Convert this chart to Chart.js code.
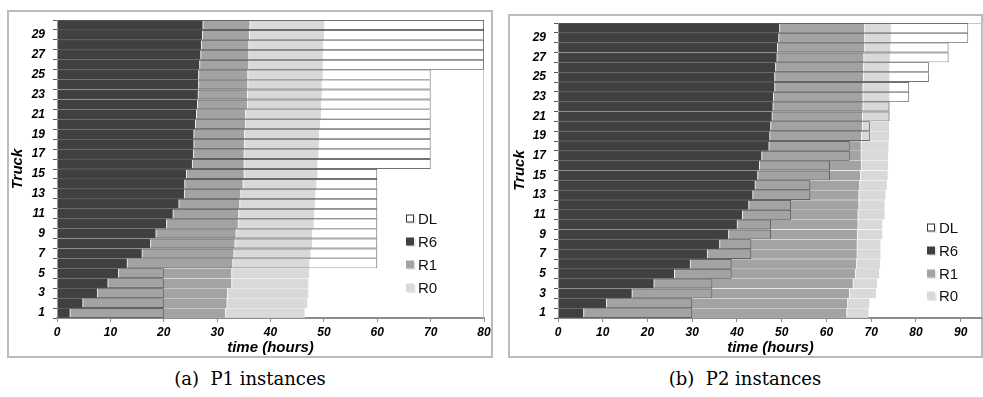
<!DOCTYPE html>
<html><head><meta charset="utf-8">
<script src="https://cdn.jsdelivr.net/npm/chart.js@4.4.1/dist/chart.umd.min.js"></script>
<style>
html,body{margin:0;padding:0;background:#fff;}
body{width:983px;height:397px;overflow:hidden;position:relative;}
.frame{position:absolute;border:2px solid #bcbcbc;box-sizing:border-box;}
#fa{left:7px;top:10px;width:486px;height:348px;}
#fb{left:508px;top:14px;width:475px;height:344px;}
canvas{position:absolute;top:0;}
#ca{left:0;}
#cb{left:500px;}
.cap{position:absolute;top:368px;font-family:'DejaVu Serif','Liberation Serif',serif;font-size:18px;white-space:nowrap;transform:translateX(-50%);color:#000;}
</style></head>
<body>
<div class="frame" id="fa"></div>
<div class="frame" id="fb"></div>
<canvas id="ca" width="495" height="360"></canvas>
<canvas id="cb" width="483" height="360"></canvas>
<div class="cap" style="left:250px">(a)&nbsp; P1 instances</div>
<div class="cap" style="left:745px">(b)&nbsp; P2 instances</div>
<script>
// ---- data ----
const trucks = ['1','2','3','4','5','6','7','8','9','10','11','12','13','14','15','16','17','18','19','20','21','22','23','24','25','26','27','28','29','30'];
const seriesNames = ['DL','R6','R1','R0'];
// Panel (a): P1 instances — end time (hours) of each phase, and deadline
const p1R6 = [2.4,4.8,7.5,9.5,11.5,13.1,15.9,17.5,18.5,20.5,21.7,22.8,23.8,23.9,24.2,25.3,25.5,25.6,25.6,25.9,26.1,26.3,26.4,26.5,26.5,26.7,26.9,27.0,27.2,27.3];
const p1R1 = [31.5,31.8,31.9,32.7,32.7,32.9,33.1,33.3,33.5,33.9,34.0,34.2,34.4,34.8,35.0,35.0,35.0,35.1,35.1,35.3,35.3,35.6,35.6,35.7,35.7,35.9,35.9,35.9,36.0,36.1];
const p1R0 = [46.4,46.9,47.1,47.1,47.2,47.3,47.5,47.8,47.8,48.1,48.2,48.3,48.4,48.6,48.8,48.8,49.0,49.1,49.1,49.3,49.5,49.5,49.6,49.6,49.8,49.8,49.8,49.9,50.0,50.1];
const p1DL = [20,20,20,20,20,60,60,60,60,60,60,60,60,60,60,70,70,70,70,70,70,70,70,70,70,80,80,80,80,80];
// Panel (b): P2 instances
const p2R6 = [5.7,10.8,16.5,21.4,26.0,29.5,33.3,36.1,38.1,40.0,41.2,42.6,43.5,44.0,44.6,45.0,45.5,47.1,47.3,47.5,47.8,48.0,48.1,48.4,48.4,48.6,48.9,49.0,49.3,49.5];
const p2R1 = [64.5,64.7,65.1,65.9,66.4,66.7,66.8,66.8,66.9,67.0,67.0,67.2,67.2,67.4,67.6,67.8,67.7,67.7,67.8,68.0,68.0,68.1,68.1,68.1,68.2,68.2,68.3,68.5,68.5,68.5];
const p2R0 = [69.4,69.6,71.1,71.3,71.8,72.0,72.1,72.1,72.5,72.5,73.0,73.0,73.2,73.5,73.7,73.8,73.8,73.9,74.0,74.0,74.1,74.1,74.1,74.1,74.1,74.1,74.2,74.3,74.4,74.4];
const p2DL = [30,30,34.5,34.5,38.8,38.8,43.2,43.2,47.6,47.6,52.1,52.1,56.4,56.4,60.8,60.8,65.2,65.2,69.7,69.7,74.1,74.1,78.5,78.5,82.9,82.9,87.3,87.3,91.7,91.7];
const xTicksStep = 10;

// ---- styles ----
const C_R6 = '#404040', C_R1 = '#a3a3a3', C_R0 = '#d9d9d9', C_DL = '#474747';
const FAM = '"Liberation Sans", Arial, sans-serif';
const tickFont = {family:FAM, size:12, weight:'bold', style:'italic'};
const titleFont = {family:FAM, size:15, weight:'bold', style:'italic'};

function spans(start, end){ return end.map((v,i)=>[start ? start[i] : 0, v]); }

function plotBorder(){
  return {id:'plotBorder', beforeDatasetsDraw(chart){
    const a = chart.chartArea, ctx = chart.ctx;
    ctx.save(); ctx.strokeStyle = '#c6c6c6'; ctx.lineWidth = 1;
    ctx.beginPath();
    ctx.moveTo(a.left, a.top + 0.5); ctx.lineTo(a.right - 0.5, a.top + 0.5); ctx.lineTo(a.right - 0.5, a.bottom);
    ctx.stroke(); ctx.restore();
  }};
}
function legendBox(lx, tx, ys){
  return {id:'legendBox', afterDraw(chart){
    const ctx = chart.ctx;
    const fills = ['#ffffff', C_R6, C_R1, C_R0];
    ctx.save();
    ctx.font = '15px ' + FAM;
    ctx.textBaseline = 'middle'; ctx.textAlign = 'left';
    seriesNames.forEach((n,i)=>{
      const y = ys[i];
      ctx.fillStyle = '#e6e6e6'; ctx.fillRect(lx+1.5, y-3, 8, 8);
      ctx.fillStyle = fills[i]; ctx.fillRect(lx, y-4.5, 8, 8);
      if (i === 0){ ctx.strokeStyle = '#333'; ctx.lineWidth = 1; ctx.strokeRect(lx+0.5, y-4, 7, 7); }
      ctx.fillStyle = '#111';
      ctx.fillText(n, tx, y + 0.5);
    });
    ctx.restore();
  }};
}

function makeChart(id, r6, r1, r0, dl, xMax, cfg){
  const colorBar = (data, bg, leftW) => ({
    label:'', data, backgroundColor:bg, borderColor:'rgba(255,255,255,0.55)',
    borderWidth:{left:leftW, right:0, top:0.5, bottom:0.5}, borderSkipped:false,
    grouped:false, barPercentage:1, categoryPercentage:1
  });
  return new Chart(document.getElementById(id), {
    type:'bar',
    data:{
      labels: trucks,
      datasets:[
        {label:'DL', data:spans(null, dl), backgroundColor:'rgba(0,0,0,0)', borderColor:C_DL, borderWidth:0.7,
         borderSkipped:false, grouped:false, barPercentage:1, categoryPercentage:1, inflateAmount:0},
        colorBar(spans(r1, r0), C_R0, 1),
        colorBar(spans(r6, r1), C_R1, 1),
        colorBar(spans(null, r6), C_R6, 0),
        {label:'DLfill', data:spans(null, dl), backgroundColor:'#ffffff', borderWidth:0,
         grouped:false, barPercentage:1, categoryPercentage:1}
      ]
    },
    options:{
      indexAxis:'y', responsive:false, animation:false, devicePixelRatio:1,
      layout:{padding:{top:cfg.top, right:cfg.right, left:0, bottom:0}},
      plugins:{legend:{display:false}, tooltip:{enabled:false}},
      scales:{
        x:{type:'linear', min:0, max:xMax,
           grid:{drawOnChartArea:false, drawTicks:true, tickLength:4, color:'#8c8c8c', lineWidth:1},
           border:{display:true, color:'#8c8c8c', width:2},
           ticks:{stepSize:xTicksStep, includeBounds:false, padding:3, color:'#000', font:tickFont, maxRotation:0},
           title:{display:true, text:'time (hours)', color:'#000', font:titleFont, padding:{top:0, bottom:3}},
           afterFit(s){ s.height = 42; }},
        y:{type:'category', reverse:true, offset:true,
           grid:{offset:true, drawOnChartArea:false, tickLength:4, color:'#555', lineWidth:1},
           border:{display:false},
           ticks:{autoSkip:false, padding:8, color:'#000', font:tickFont,
                  callback(v, i){ return i % 2 === 0 ? this.getLabelForValue(v) : ''; }},
           title:{display:true, text:'Truck', color:'#000', font:titleFont, padding:{top:cfg.ytp, bottom:0}},
           afterFit(s){ s.width = cfg.yw; }}
      }
    },
    plugins:[plotBorder(), legendBox(cfg.lx, cfg.tx, cfg.ly)]
  });
}

makeChart('ca', p1R6, p1R1, p1R0, p1DL, 80, {top:20, right:11, yw:57, ytp:9, lx:406, tx:418, ly:[219,242,265,288]});
makeChart('cb', p2R6, p2R1, p2R0, p2DL, 95, {top:23, right:0, yw:58, ytp:11, lx:427, tx:439, ly:[228,251,274,296]});
</script>
</body></html>
